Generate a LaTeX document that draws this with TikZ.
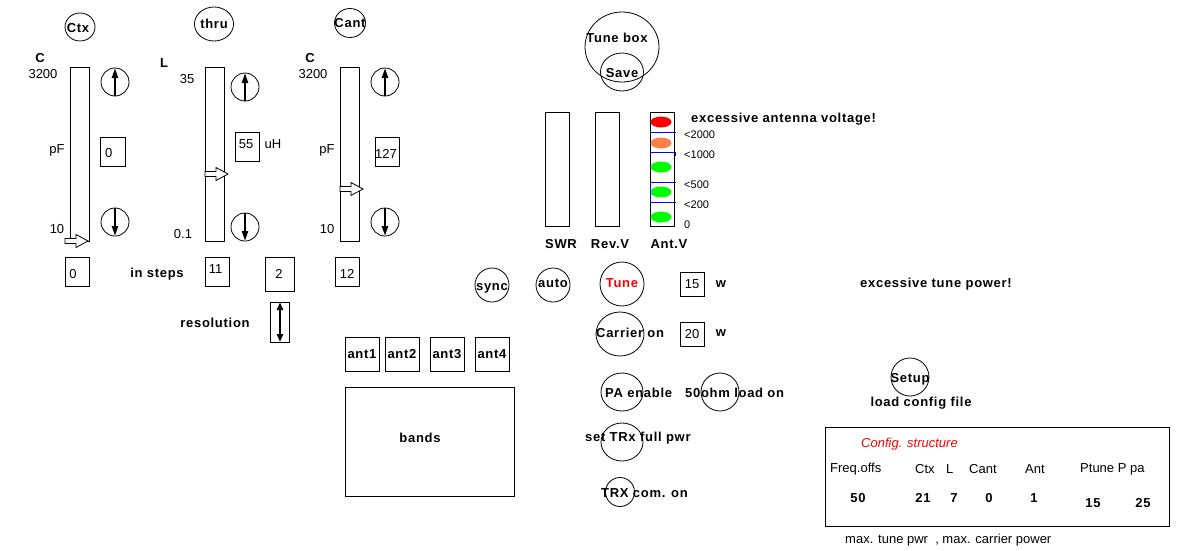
\documentclass[tikz,border=0pt]{standalone}
\usepackage{fontspec}
\setmainfont{Liberation Sans}
\usetikzlibrary{arrows.meta,shapes.geometric}
\definecolor{ledred}{RGB}{255,0,0}
\definecolor{ledorange}{RGB}{255,128,72}
\definecolor{ledgreen}{RGB}{0,255,0}
\tikzset{
  lbl/.style={inner sep=0pt, font=\fontsize{13}{15}\selectfont},
  blbl/.style={inner sep=0pt, font=\fontsize{13}{15}\selectfont\bfseries\addfontfeature{LetterSpace=5.5}},
  frame/.style={line width=1pt},
  btn/.style={line width=0.8pt},
  updown/.style={line width=2.2pt, -{Triangle[length=10pt,width=6pt]}},
  bothway/.style={line width=2.2pt, {Triangle[length=8pt,width=6pt]}-{Triangle[length=8pt,width=6pt]}},
  scaleline/.style={blue, line width=1pt},
  harrow/.pic={\draw[line width=0.8pt, fill=white] (0,-2.5) -- (11,-2.5) -- (11,-6.5) -- (23,0) -- (11,6.5) -- (11,2.5) -- (0,2.5) -- cycle;}
}
\begin{document}
\begin{tikzpicture}[x=1pt,y=-1pt]
\fill[white] (0,0) rectangle (1188,550);
\useasboundingbox (0,0) rectangle (1188,550);

% ---------- top selector buttons ----------
\draw[btn] (80,27) ellipse [x radius=15pt, y radius=14pt];
\node[blbl] (tctx) at (78,28) {Ctx};
\draw[btn] (214,24) ellipse [x radius=19.5pt, y radius=17pt];
\node[blbl] (tthru) at (214,24) {thru};
\draw[btn] (350,23) ellipse [x radius=15.5pt, y radius=14.5pt];
\node[blbl] (tcant) at (350,23) {Cant};

% ---------- Ctx slider ----------
\node[blbl] (cc1) at (40,58) {C};
\node[lbl] (c3200a) at (43,74) {3200};
\node[lbl] (pfa) at (57,150) {pF};
\node[lbl] (c10a) at (57,229) {10};
\draw[frame] (70,67) rectangle (89,241);
\pic at (65,241) {harrow};
\draw[btn] (115,82) circle [radius=14pt];
\draw[updown] (115,96) -- (115,68);
\draw[btn] (115,222) circle [radius=14pt];
\draw[updown] (115,208) -- (115,236);
\draw[frame] (100,137) rectangle (125,166);
\node[lbl, anchor=west] (vctx) at (105,153) {0};
\draw[frame] (65,257) rectangle (89,286);
\node[lbl] (sctx) at (73,274) {0};

% ---------- L slider ----------
\node[blbl] (ll) at (164,63) {L};
\node[lbl] (l35) at (187,79) {35};
\node[lbl] (l01) at (183,234) {0.1};
\draw[frame] (205,67) rectangle (224,241);
\pic at (205,174) {harrow};
\draw[btn] (245,87) circle [radius=14pt];
\draw[updown] (245,101) -- (245,73);
\draw[btn] (245,227) circle [radius=14pt];
\draw[updown] (245,213) -- (245,241);
\draw[frame] (235,132) rectangle (259,161);
\node[lbl] (vl) at (246,144) {55};
\node[lbl] (uh) at (273,144) {uH};
\draw[frame] (205,257) rectangle (229,286);
\node[lbl] (sl) at (215.5,269) {11};
\node[blbl] (insteps) at (157,274) {in steps};
\draw[frame] (265,257) rectangle (294,291);
\node[lbl] (res) at (279,274) {2};
\draw[frame] (270,302) rectangle (289,342);
\draw[bothway] (280,302) -- (280,342);
\node[blbl] (resol) at (215,323) {resolution};

% ---------- Cant slider ----------
\node[blbl] (cc2) at (310,58) {C};
\node[lbl] (c3200b) at (313,74) {3200};
\node[lbl] (pfb) at (327,150) {pF};
\node[lbl] (c10b) at (327,229) {10};
\draw[frame] (340,67) rectangle (359,241);
\pic at (340,189) {harrow};
\draw[btn] (385,82) circle [radius=14pt];
\draw[updown] (385,96) -- (385,68);
\draw[btn] (385,222) circle [radius=14pt];
\draw[updown] (385,208) -- (385,236);
\draw[frame] (375,137) rectangle (399,166);
\node[lbl] (vcant) at (386,154) {127};
\draw[frame] (335,257) rectangle (359,286);
\node[lbl] (scant) at (347,274) {12};

% ---------- antennas and bands ----------
\draw[frame] (345,337) rectangle (379,371);
\node[blbl] (a1) at (362,354) {ant1};
\draw[frame] (385,337) rectangle (419,371);
\node[blbl] (a2) at (402,354) {ant2};
\draw[frame] (430,337) rectangle (464,371);
\node[blbl] (a3) at (447,354) {ant3};
\draw[frame] (475,337) rectangle (509,371);
\node[blbl] (a4) at (492,354) {ant4};
\draw[frame] (345,387) rectangle (514,496);
\node[blbl] (bands) at (420,438) {bands};

% ---------- Tune box ----------
\draw[btn] (622,47) ellipse [x radius=37pt, y radius=35pt];
\node[blbl] (tunebox) at (617,38) {Tune box};
\draw[btn] (622,72) ellipse [x radius=21.5pt, y radius=19pt];
\node[blbl] (save) at (622,73) {Save};

% ---------- meters ----------
\draw[frame] (545,112) rectangle (569,226);
\draw[frame] (595,112) rectangle (619,226);
\draw[frame] (650,112) rectangle (674,226);
\node[blbl] (swr) at (561,244) {SWR};
\node[blbl] (revv) at (610,244) {Rev.V};
\node[blbl] (antv) at (669,244) {Ant.V};
\fill[ledred] (661,122) ellipse [x radius=10.5pt, y radius=5.5pt];
\fill[ledorange] (661,143) ellipse [x radius=10.5pt, y radius=5.5pt];
\fill[ledgreen] (661,167) ellipse [x radius=10.5pt, y radius=5.5pt];
\fill[ledgreen] (661,192) ellipse [x radius=10.5pt, y radius=5.5pt];
\fill[ledgreen] (661,217) ellipse [x radius=10.5pt, y radius=5.5pt];
\draw[scaleline] (650,132) -- (676,132);
\draw[scaleline] (650,152) -- (675,152) -- (675,156);
\draw[scaleline] (676,182) -- (650,182) -- (650,202) -- (676,202);
\node[lbl, anchor=west, font=\fontsize{11}{13}\selectfont] (s2000) at (684,135) {<2000};
\node[lbl, anchor=west, font=\fontsize{11}{13}\selectfont] (s1000) at (684,155) {<1000};
\node[lbl, anchor=west, font=\fontsize{11}{13}\selectfont] (s500) at (684,185) {<500};
\node[lbl, anchor=west, font=\fontsize{11}{13}\selectfont] (s200) at (684,205) {<200};
\node[lbl, anchor=west, font=\fontsize{11}{13}\selectfont] (s0) at (684,225) {0};
\node[blbl, anchor=west] (excant) at (691,119) {excessive antenna voltage!};

% ---------- tune controls ----------
\draw[btn] (492,285) circle [radius=17pt];
\node[blbl] (sync) at (492,288) {sync};
\draw[btn] (553,285) circle [radius=17pt];
\node[blbl] (auto) at (553,283) {auto};
\draw[btn] (622,284) circle [radius=22pt];
\node[blbl, text=red] (tune) at (622,283) {Tune};
\draw[frame] (680,272) rectangle (704,296);
\node[lbl] (ptune) at (692,284) {15};
\node[blbl] (w1) at (721,284) {w};
\node[blbl, anchor=west] (exctune) at (860,284) {excessive tune power!};

\draw[btn] (620,334) ellipse [x radius=24pt, y radius=22pt];
\node[blbl, anchor=west] (carrier) at (596,333) {Carrier on};
\draw[frame] (680,322) rectangle (704,346);
\node[lbl] (pcar) at (692,334) {20};
\node[blbl] (w2) at (721,333) {w};

\draw[btn] (622,392) ellipse [x radius=21pt, y radius=19pt];
\node[blbl, anchor=west] (paen) at (605,393) {PA enable};
\draw[btn] (720,392) ellipse [x radius=19pt, y radius=19pt];
\node[blbl, anchor=west] (load) at (685,393) {50ohm load on};

\draw[btn] (622,442) ellipse [x radius=21pt, y radius=19pt];
\node[blbl, anchor=west] (settrx) at (585,438) {set TRx full pwr};

\draw[btn] (620,492) circle [radius=14.5pt];
\node[blbl, anchor=west] (trxcom) at (601,493) {TRX com. on};

% ---------- setup / config ----------
\draw[btn] (910,377) circle [radius=19pt];
\node[blbl] (setup) at (910,379) {Setup};
\node[blbl] (loadcfg) at (921,403) {load config file};

\draw[frame] (825,427) rectangle (1169,526);
\node[lbl, anchor=west, text=red, font=\fontsize{13}{15}\selectfont\itshape] (cfgs) at (861,444) {Config. structure};
\node[lbl, anchor=west] (hfreq) at (830,469) {Freq.offs};
\node[lbl, anchor=west] (hctx) at (915,469) {Ctx};
\node[lbl, anchor=west] (hl) at (946,469) {L};
\node[lbl, anchor=west] (hcant) at (969,469) {Cant};
\node[lbl, anchor=west] (hant) at (1025,469) {Ant};
\node[lbl, anchor=west] (hpt) at (1080,469) {Ptune P pa};
\node[blbl] (v50) at (858,498) {50};
\node[blbl] (v21) at (923,498) {21};
\node[blbl] (v7) at (954,498) {7};
\node[blbl] (v0) at (989,498) {0};
\node[blbl] (v1) at (1034,498) {1};
\node[blbl] (v15) at (1093,503) {15};
\node[blbl] (v25) at (1143,503) {25};
\node[lbl, anchor=west] (maxp) at (845,540) {max. tune pwr\ \ , max. carrier power};
\end{tikzpicture}
\end{document}
